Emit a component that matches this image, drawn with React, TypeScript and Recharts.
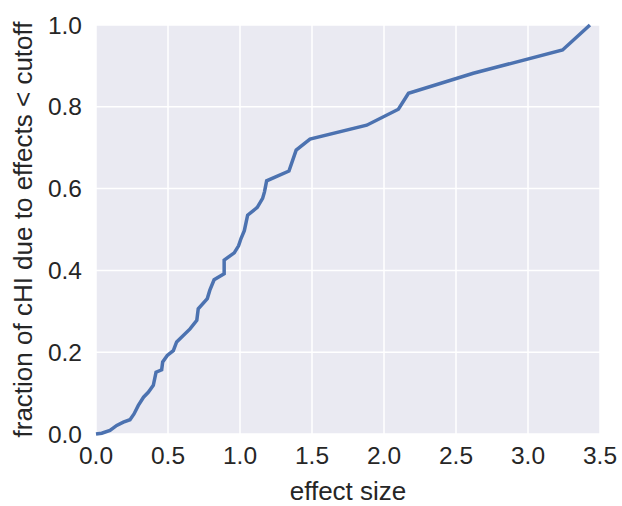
import { CartesianGrid, Label, Line, LineChart, XAxis, YAxis } from "recharts";

const effectSizes = [0, 0.04, 0.097, 0.144, 0.19, 0.236, 0.264, 0.294, 0.33, 0.363, 0.398, 0.417, 0.456, 0.463, 0.495, 0.537, 0.56, 0.653, 0.7, 0.71, 0.773, 0.79, 0.82, 0.89, 0.89, 0.96, 0.99, 1.007, 1.03, 1.053, 1.12, 1.157, 1.17, 1.185, 1.34, 1.39, 1.486, 1.88, 2.1, 2.17, 2.62, 3.24, 3.43];
const fractions = [0, 0.002, 0.009, 0.021, 0.029, 0.035, 0.049, 0.07, 0.09, 0.102, 0.119, 0.151, 0.157, 0.176, 0.192, 0.204, 0.225, 0.257, 0.278, 0.306, 0.331, 0.351, 0.377, 0.392, 0.425, 0.443, 0.46, 0.478, 0.497, 0.535, 0.554, 0.576, 0.592, 0.619, 0.643, 0.694, 0.721, 0.755, 0.794, 0.833, 0.882, 0.939, 1.0];
const xTicks = [0, 0.5, 1, 1.5, 2, 2.5, 3, 3.5];
const yTicks = [0, 0.2, 0.4, 0.6, 0.8, 1];

const data = effectSizes.map((x, i) => ({ x, y: fractions[i] }));
const font = "Liberation Sans, Arial, sans-serif";
const tick = { fill: "#262626", fontSize: 24.5, fontFamily: font };
const labelStyle = { fill: "#262626", fontSize: 26, fontFamily: font, textAnchor: "middle" as const };
const fmt = (v: number) => v.toFixed(1);

export default function App() {
  return (
    <div style={{ position: "absolute", left: 0, top: 0, background: "#fff" }}>
      <LineChart width={622} height={506} data={data} margin={{ top: 25, right: 22, bottom: 0, left: 0 }}>
        <CartesianGrid fill="#EAEAF2" stroke="#ffffff" strokeWidth={1.5} horizontalValues={yTicks} verticalValues={xTicks}/>
        <XAxis dataKey="x" type="number" domain={[0, 3.5]} ticks={xTicks} tickFormatter={fmt} axisLine={false} tickLine={false} tickMargin={7} height={72} tick={tick} interval={0}>
          <Label value="effect size" position="insideBottom" offset={6} style={labelStyle}/>
        </XAxis>
        <YAxis dataKey="y" type="number" domain={[0, 1]} ticks={yTicks} tickFormatter={fmt} axisLine={false} tickLine={false} tickMargin={8} width={96} tick={tick} interval={0}>
          <Label value="fraction of cHI due to effects < cutoff" angle={-90} position="insideLeft" offset={23} style={labelStyle}/>
        </YAxis>
        <Line dataKey="y" type="linear" stroke="#4C72B0" strokeWidth={3.5} dot={false} isAnimationActive={false}/>
      </LineChart>
    </div>
  );
}
